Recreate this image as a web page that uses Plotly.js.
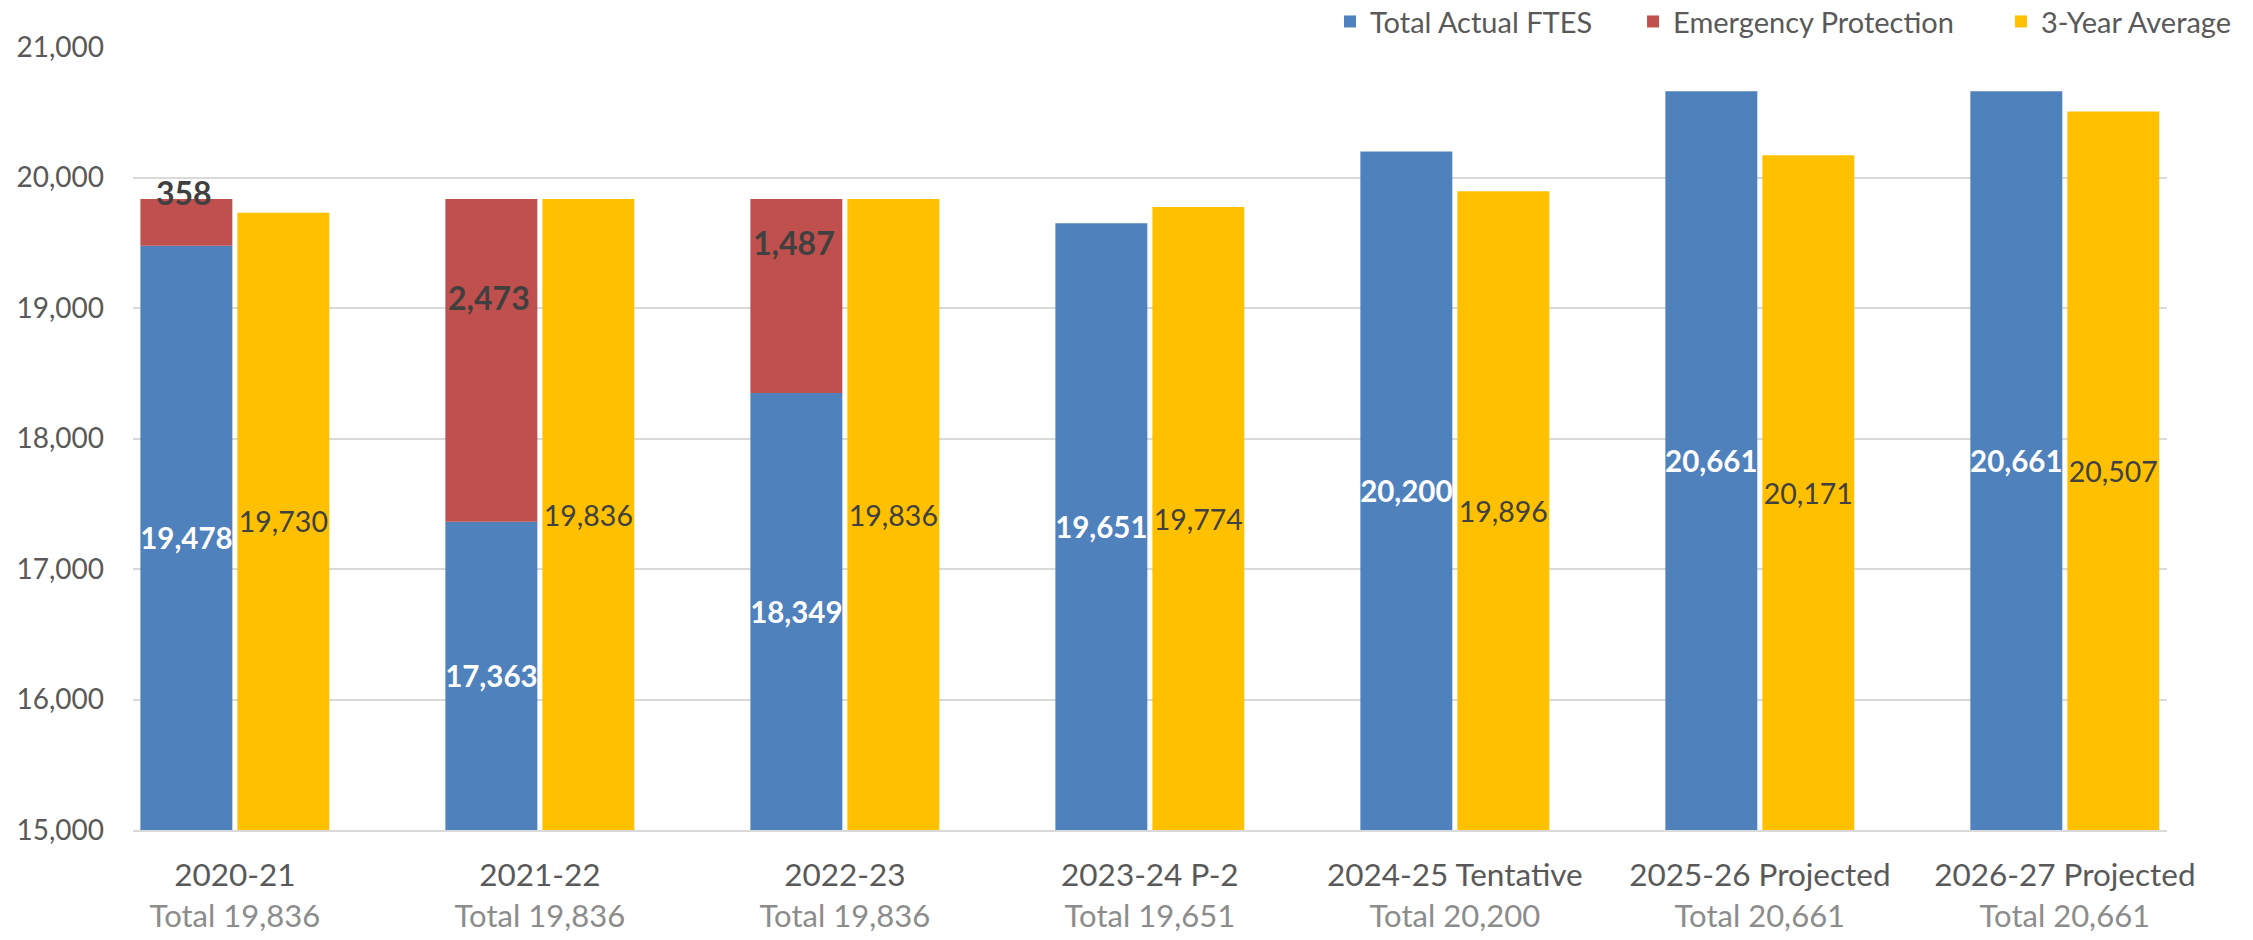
<!DOCTYPE html>
<html>
<head>
<meta charset="utf-8">
<script src="https://cdn.plot.ly/plotly-3.0.1.min.js"></script>
<style>
  html, body { margin: 0; padding: 0; background: #fff; }
  #chart { width: 2253px; height: 940px; }
</style>
</head>
<body>
<div id="chart"></div>
<script>
// ---- data ----
const categories = ['2020-21', '2021-22', '2022-23', '2023-24 P-2', '2024-25 Tentative', '2025-26 Projected', '2026-27 Projected'];
const actualFTES = [19478, 17363, 18349, 19651, 20200, 20661, 20661];
const emergencyProtection = [358, 2473, 1487, null, null, null, null];
const threeYearAverage = [19730, 19836, 19836, 19774, 19896, 20171, 20507];
const yTickValues = [15000, 16000, 17000, 18000, 19000, 20000, 21000];
const seriesNames = ['Total Actual FTES', 'Emergency Protection', '3-Year Average'];

// ---- style / config ----
const YMIN = 15000, YMAX = 21000;
const FONT = 'Lato, "Open Sans", sans-serif';
const fmt = v => v.toLocaleString('en-US');
const totals = actualFTES.map((v, i) => v + (emergencyProtection[i] || 0));
const tickText = categories.map((c, i) =>
  c + '<br><span style="color:#8c8c8c;font-size:31px">Total ' + fmt(totals[i]) + '</span>');
// pixel offsets of the emergency labels relative to the top of the stack
const redLabelShift = [7, -98, -43];
const legendFont = { family: FONT, size: 29, color: '#595959' };

const traces = [
  {
    type: 'bar', name: seriesNames[0], x: categories, legend: 'legend',
    y: actualFTES.map(v => v - YMIN), base: YMIN,
    offsetgroup: 'stack',
    marker: { color: '#4F81BD' },
    text: actualFTES.map(fmt), textposition: 'inside', insidetextanchor: 'middle',
    constraintext: 'none', textangle: 0,
    textfont: { family: FONT, size: 29.5, color: '#ffffff', weight: 'bold' },
    hoverinfo: 'skip'
  },
  {
    type: 'bar', name: seriesNames[1], x: categories, legend: 'legend2',
    y: emergencyProtection, base: actualFTES,
    offsetgroup: 'stack',
    marker: { color: '#C0504D' },
    textposition: 'none',
    hoverinfo: 'skip'
  },
  {
    type: 'bar', name: seriesNames[2], x: categories, legend: 'legend3',
    y: threeYearAverage.map(v => v - YMIN), base: YMIN,
    offsetgroup: 'avg',
    marker: { color: '#FFC000' },
    text: threeYearAverage.map(fmt), textposition: 'inside', insidetextanchor: 'middle',
    constraintext: 'none', textangle: 0,
    textfont: { family: FONT, size: 28.5, color: '#404040' },
    hoverinfo: 'skip'
  }
];

const annotations = [];
emergencyProtection.forEach((v, i) => {
  if (v == null) return;
  annotations.push({
    x: categories[i], y: actualFTES[i] + v, xref: 'x', yref: 'y',
    text: fmt(v), showarrow: false, xshift: -51, yshift: redLabelShift[i] || 0,
    yanchor: 'middle',
    font: { family: FONT, size: 32, color: '#404040', weight: 'bold' }
  });
});

function legendAt(x) {
  return {
    orientation: 'h', x: x, xanchor: 'left', y: 1.065, yanchor: 'top',
    font: legendFont, bgcolor: 'rgba(255,255,255,0)', borderwidth: 0
  };
}

const layout = {
  width: 2253, height: 940,
  margin: { l: 133, r: 86, t: 47, b: 110, autoexpand: false },
  paper_bgcolor: '#ffffff', plot_bgcolor: '#ffffff',
  barmode: 'group', bargap: 0.364, bargroupgap: 0.052,
  font: { family: FONT, color: '#595959' },
  showlegend: true,
  legend: legendAt(0.5885),
  legend2: legendAt(0.7375),
  legend3: legendAt(0.9184),
  xaxis: {
    type: 'category', range: [-0.334, 6.335],
    tickvals: categories, ticktext: tickText,
    tickfont: { family: FONT, size: 31.5, color: '#595959' },
    ticks: '', showgrid: false, zeroline: false,
    showline: true, linecolor: '#d9d9d9', linewidth: 2,
    ticklabelstandoff: 16
  },
  yaxis: {
    range: [YMIN, YMAX + 1], tickvals: yTickValues, ticktext: yTickValues.map(fmt),
    tickfont: { family: FONT, size: 28, color: '#595959' },
    ticks: '', showgrid: true, gridcolor: '#d9d9d9', gridwidth: 2,
    zeroline: false, showline: false, ticklabelstandoff: 28
  },
  annotations: annotations
};

Plotly.newPlot('chart', traces, layout, { displayModeBar: false, staticPlot: true });
</script>
</body>
</html>
